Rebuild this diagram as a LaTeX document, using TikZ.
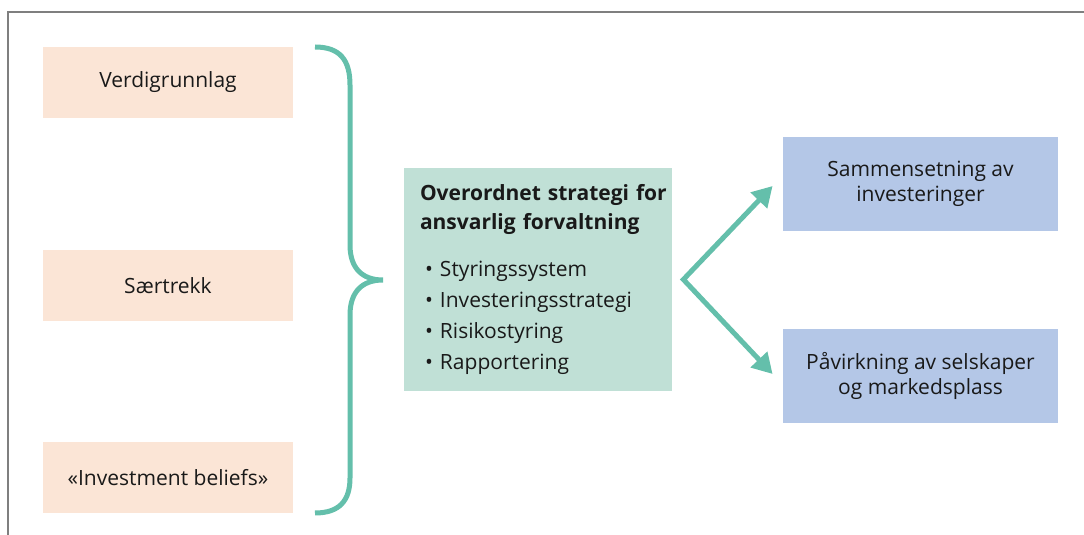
\documentclass[tikz,border=0pt]{standalone}
\usepackage{fontspec}
\setmainfont{Open Sans}
\usepackage{tikz}
\usepackage{xcolor}
\usetikzlibrary{
    arrows.meta,
    calc,
    positioning
}
\definecolor{peach}{HTML}{FBE5D6}
\definecolor{mint}{HTML}{C0E0D6}
\definecolor{skyblue}{HTML}{B4C7E7}
\definecolor{teal}{HTML}{64BFAB}
\definecolor{framegray}{HTML}{7F7F7F}

\begin{document}
\begin{tikzpicture}[x=0.5pt, y=-0.5pt,
                        basebox/.style={inner sep=0pt, align=center, text=black!90},
                        leftbox/.style={basebox, fill=peach, minimum width=125pt, minimum height=35.5pt,
                            font=\fontsize{10.5}{12.5}\selectfont},
                        rightbox/.style={basebox, fill=skyblue, minimum width=137.5pt, minimum height=47pt,
                            font=\fontsize{10.5}{12.8}\selectfont},
                        midbox/.style={basebox, fill=mint, minimum width=134pt, minimum height=111.5pt,
                            inner xsep=8pt, text width=118pt, align=left,
                            font=\fontsize{10.5}{15.5}\selectfont},
                        flow/.style={draw=teal, line width=2.5pt, line join=miter,
                            {Triangle[length=10pt,width=11pt]}-{Triangle[length=10pt,width=11pt]}},
                        brace/.style={draw=teal, line width=2.5pt}
                    ]
                        \useasboundingbox (0, 0) rectangle (1084, 535);
                        \draw[framegray, line width=0.6pt] (8, 535) -- (8, 12) -- (1084, 12);

                        \node[leftbox] (verdi) at (168, 82.5) {Verdigrunnlag};
                        \node[leftbox] (saer) at (168, 285.5) {Særtrekk};
                        \node[leftbox] (beliefs) at (168, 477.5) {«Investment beliefs»};

                        \draw[brace] (315, 47) .. controls (340, 47) and (350, 60) .. (350, 85)
                            -- (350, 245) .. controls (350, 268) and (362, 280) .. (383, 280)
                            .. controls (362, 280) and (350, 292) .. (350, 315)
                            -- (350, 478) .. controls (350, 500) and (340, 513) .. (315, 513);

                        \node[midbox] (strategi) at (538, 279.5) {%
                            \mbox{\textbf{Overordnet strategi for}}\\[-1.1pt]
                            \mbox{\textbf{ansvarlig forvaltning}}\\[8.4pt]
                            \hspace*{2.5pt}\makebox[7.5pt][l]{\textbullet}Styringssystem\\
                            \hspace*{2.5pt}\makebox[7.5pt][l]{\textbullet}Investeringsstrategi\\
                            \hspace*{2.5pt}\makebox[7.5pt][l]{\textbullet}Risikostyring\\
                            \hspace*{2.5pt}\makebox[7.5pt][l]{\textbullet}Rapportering};

                        \node[rightbox] (sammen) at (920.5, 184) {Sammensetning av\\investeringer};
                        \node[rightbox] (paavirk) at (920.5, 376) {Påvirkning av selskaper\\og markedsplass};

                        \coordinate (split) at ($(strategi.east) + (11, 0)$);
                        \draw[flow] ($(sammen.west) + (-10, 2)$) -- (split) -- ($(paavirk.west) + (-10, -2)$);
                    \end{tikzpicture}
\end{document}
